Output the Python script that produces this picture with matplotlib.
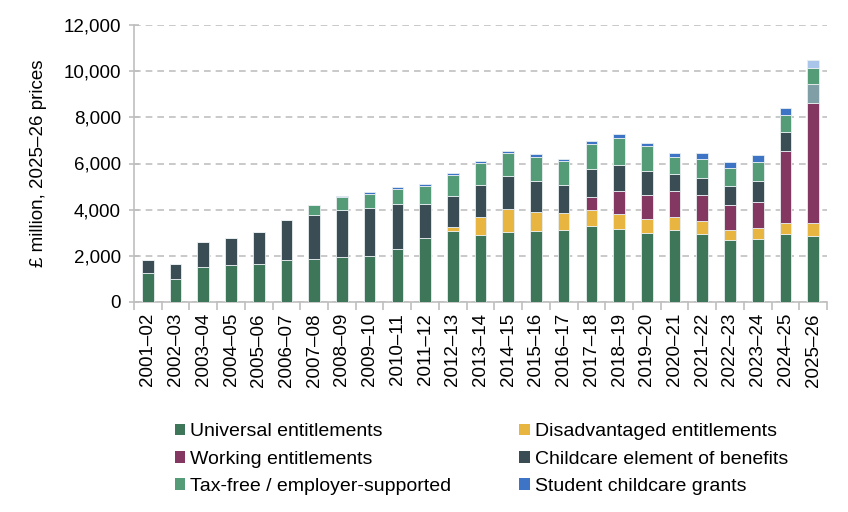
import numpy as np
import matplotlib
matplotlib.use("Agg")
import matplotlib.pyplot as plt
from matplotlib.patches import Patch
from matplotlib.ticker import FuncFormatter

plt.rcParams['font.family'] = ['Liberation Sans', 'DejaVu Sans']

years = ['2001\u201302', '2002\u201303', '2003\u201304', '2004\u201305', '2005\u201306',
         '2006\u201307', '2007\u201308', '2008\u201309', '2009\u201310', '2010\u201311',
         '2011\u201312', '2012\u201313', '2013\u201314', '2014\u201315', '2015\u201316',
         '2016\u201317', '2017\u201318', '2018\u201319', '2019\u201320', '2020\u201321',
         '2021\u201322', '2022\u201323', '2023\u201324', '2024\u201325', '2025\u201326']

# £ million, 2025-26 prices
universal = [1240, 980, 1515, 1615, 1660, 1820, 1850, 1960, 2005, 2310, 2755, 3075, 2915,
             3015, 3090, 3130, 3305, 3160, 2985, 3115, 2960, 2670, 2715, 2930, 2860]
disadvantaged = [0, 0, 0, 0, 0, 0, 0, 0, 0, 0, 0, 175, 765,
                 1025, 825, 705, 665, 635, 590, 565, 535, 460, 490, 505, 575]
working = [0, 0, 0, 0, 0, 0, 0, 0, 0, 0, 0, 0, 0,
           0, 0, 0, 575, 1025, 1065, 1125, 1140, 1070, 1140, 3105, 5165]
childcare = [575, 680, 1070, 1140, 1355, 1745, 1920, 2005, 2050, 1920, 1500, 1355, 1385,
             1400, 1340, 1225, 1200, 1125, 1025, 720, 750, 810, 910, 810, 835]
tax_free = [0, 0, 0, 0, 0, 0, 450, 565, 620, 680, 750, 910, 940,
            995, 1025, 1040, 1110, 1170, 1095, 750, 810, 795, 795, 750, 705]
student = [0, 0, 0, 0, 0, 0, 0, 60, 70, 70, 100, 85, 100,
           100, 115, 115, 115, 145, 145, 190, 245, 275, 320, 320, 330]

labels = ['Universal entitlements', 'Disadvantaged entitlements', 'Working entitlements',
          'Childcare element of benefits', 'Tax-free / employer-supported',
          'Student childcare grants']
colors = ['#3e7659', '#e8b540', '#843760', '#3a4d55', '#539c77', '#3e74c5']
# last year drawn in lighter shades for two series
childcare_cols = ['#3a4d55'] * 24 + ['#7f9ea5']
student_cols = ['#3e74c5'] * 24 + ['#a9c6ea']

fig = plt.figure(figsize=(8.48, 5.12), dpi=100)
ax = fig.add_axes([134 / 848, 1 - 302 / 512, (827 - 134) / 848, (302 - 25) / 512])

x = np.arange(len(years))
w = 0.42
series = [universal, disadvantaged, working, childcare, tax_free, student]
col_lists = [colors[0], colors[1], colors[2], childcare_cols, colors[4], student_cols]
bottom = np.zeros(len(years))
for vals, c in zip(series, col_lists):
    vals = np.array(vals, dtype=float)
    ax.bar(x, vals, w, bottom=bottom, color=c, edgecolor='#e8eef0', linewidth=0.6, zorder=3)
    bottom += vals

ax.set_ylim(0, 12000)
ax.set_xlim(-0.5, len(years) - 0.5)
ax.set_yticks(np.arange(0, 12001, 2000))
ax.yaxis.set_major_formatter(FuncFormatter(lambda v, p: f'{int(v):,}'))
ax.yaxis.grid(True, color='#c0c0c0', linestyle=(0, (4, 3)), linewidth=1.2, zorder=0)

ax.set_xticks(x)
ax.set_xticklabels(years, rotation=90)
ax.set_xticks(np.arange(-0.5, len(years), 1), minor=True)
ax.tick_params(axis='x', which='major', length=0, pad=8, labelsize=13.5)
ax.tick_params(axis='x', which='minor', length=6, color='#bfbfbf', width=1.2)
ax.tick_params(axis='y', direction='inout', length=7, color='#bfbfbf', width=1.2, labelsize=13.5, pad=6)

for s in ['top', 'right']:
    ax.spines[s].set_visible(False)
for s in ['left', 'bottom']:
    ax.spines[s].set_color('#bfbfbf')
    ax.spines[s].set_linewidth(1.2)

ax.set_ylabel('\u00a3 million, 2025\u201326 prices', fontsize=13.5, labelpad=12)

handles = [Patch(facecolor=c) for c in colors]
order = [0, 2, 4, 1, 3, 5]
fig.legend([handles[i] for i in order], [labels[i] for i in order],
           loc='upper left', bbox_to_anchor=(157 / 848, 1 - 406 / 512), ncol=2,
           frameon=False, fontsize=14, handlelength=0.55, handleheight=0.55,
           handletextpad=0.25, labelspacing=0.52, columnspacing=3.5)

fig.savefig('out.png', dpi=100)
